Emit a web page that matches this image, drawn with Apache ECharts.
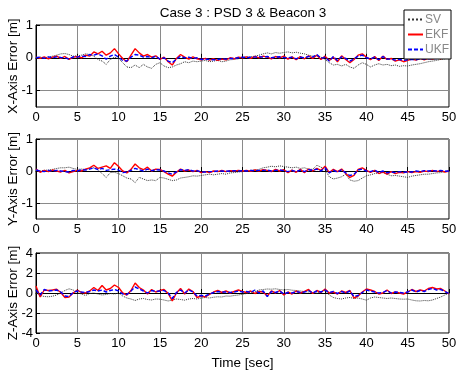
<!DOCTYPE html>
<html>
<head>
<meta charset="utf-8">
<script src="https://cdn.jsdelivr.net/npm/echarts@6/dist/echarts.min.js"></script>
<style>
  html, body { margin: 0; padding: 0; background: #fff; }
  #chart { width: 457px; height: 371px; }
</style>
</head>
<body>
<div id="chart"></div>
<script>
// time base: one sample every 0.5 s, 0..50
const time = [];
for (let i = 0; i <= 100; i++) time.push(i * 0.5);

const xyTicks = [-1, 0, 1];
const zTicks = [-4, -2, 0, 2, 4];

// X-axis error [m]
const svX = [0, 0.02, 0, 0.02, 0.05, 0.08, 0.12, 0.13, 0.1, 0.05, 0.06, 0.08, 0.12, 0.1, 0.05, -0.05, -0.1, -0.2, -0.05, 0.02, -0.02, -0.15, -0.28, -0.3, -0.22, -0.3, -0.2, -0.28, -0.32, -0.2, -0.15, -0.25, -0.3, -0.28, -0.22, -0.18, -0.12, -0.15, -0.1, -0.12, -0.1, -0.08, -0.12, -0.1, -0.08, -0.12, -0.1, -0.06, -0.05, -0.03, 0,
  0.02, 0.03, 0.05, 0.08, 0.12, 0.15, 0.12, 0.16, 0.14, 0.16, 0.18, 0.15, 0.17, 0.14, 0.12, 0.08, 0.05, 0.08, 0.02, -0.05, -0.15, -0.22, -0.2, -0.25, -0.2, -0.28, -0.32, -0.22, -0.15, -0.2, -0.28, -0.22, -0.18, -0.22, -0.2, -0.24, -0.22, -0.26, -0.24, -0.25, -0.22, -0.2, -0.18, -0.15, -0.12, -0.1, -0.08, -0.05, -0.03, 0];
const ekfX = [0.02, -0.02, 0.03, -0.03, 0.02, 0.05, -0.02, 0.04, -0.05, 0.02, 0.04, 0, 0.08, 0.05, 0.18, 0.12, 0.2, 0.08, 0.15, 0.28, 0.12, -0.02, -0.12, 0.08, 0.28, 0.15, 0.05, 0.1, 0.02, 0.06, -0.05, 0.02, -0.12, -0.22, -0.02, 0.1, 0.02, -0.04, 0.03, -0.03, -0.06, -0.02, -0.07, -0.03, -0.08, -0.04, -0.06, 0, -0.03, 0.02, 0,
  0.03, -0.02, 0.04, 0, 0.05, 0.02, -0.03, 0.04, 0, 0.05, -0.04, 0.03, -0.06, 0.04, -0.03, 0.06, -0.02, 0.08, -0.05, 0.05, -0.08, 0.02, -0.12, 0.06, -0.05, -0.15, -0.05, 0.08, 0.12, 0.02, -0.06, 0.04, -0.08, 0.05, -0.05, -0.02, -0.1, -0.06, -0.12, -0.08, -0.04, -0.07, -0.02, -0.06, -0.02, -0.04, 0, -0.03, 0.02, 0];
const ukfX = [0, 0.02, -0.02, 0.03, 0, 0.03, 0.01, 0, -0.04, 0.03, 0.02, 0.05, 0.04, 0.1, 0.08, 0.12, 0.06, -0.04, 0.05, 0.1, 0.02, -0.08, -0.1, 0.02, 0.1, 0.08, 0.02, 0.04, 0, 0.05, -0.04, 0, -0.1, -0.15, -0.04, 0.05, 0, 0.02, -0.02, 0, -0.05, -0.04, -0.05, -0.06, -0.05, -0.03, -0.04, -0.02, -0.02, 0, 0.02,
  0, 0.02, 0.02, 0.03, 0.02, 0.04, 0, 0.02, 0.03, 0.01, 0, 0.02, -0.03, 0.02, 0, 0.04, 0.02, 0.1, -0.02, 0.02, -0.1, 0.04, -0.08, 0.03, -0.02, -0.1, -0.03, 0.05, 0.08, 0, -0.03, 0.02, -0.06, 0.04, -0.04, -0.04, -0.07, -0.05, -0.08, -0.06, -0.05, -0.06, -0.03, -0.04, -0.03, -0.02, -0.02, -0.01, 0, 0];

// Y-axis error [m]
const svY = [0.02, 0, 0.02, 0.03, 0.05, 0.08, 0.1, 0.1, 0.12, 0.08, 0.05, 0.06, 0.05, 0.08, 0.1, 0.04, -0.08, -0.2, -0.05, -0.04, -0.08, -0.15, -0.22, -0.25, -0.36, -0.2, -0.25, -0.3, -0.28, -0.3, -0.2, -0.22, -0.26, -0.3, -0.28, -0.22, -0.2, -0.18, -0.15, -0.16, -0.14, -0.12, -0.1, -0.12, -0.1, -0.08, -0.1, -0.06, -0.05, -0.03, -0.02,
  0, 0.02, 0.03, 0.05, 0.1, 0.12, 0.15, 0.13, 0.16, 0.14, 0.12, 0.1, 0.12, 0.08, 0.1, 0.06, 0.05, 0.18, 0.12, 0.05, -0.18, -0.25, -0.22, -0.18, -0.1, -0.28, -0.32, -0.3, -0.22, -0.15, -0.12, -0.08, -0.06, -0.05, -0.1, -0.15, -0.14, -0.16, -0.18, -0.2, -0.16, -0.14, -0.12, -0.1, -0.1, -0.08, -0.06, -0.05, -0.02, 0];
const ekfY = [0.06, -0.04, 0.02, -0.02, 0.03, 0, -0.03, 0.02, -0.06, -0.02, 0.02, 0, 0.06, 0.1, 0.18, 0.08, 0.12, 0.16, 0.08, 0.26, 0.14, 0, -0.06, 0.05, 0.22, 0.1, 0.04, 0.12, 0, 0.06, 0.05, -0.02, -0.1, -0.16, -0.04, 0.06, 0, 0.03, -0.02, 0.02, -0.05, -0.02, -0.05, 0, -0.02, 0.02, -0.02, 0.01, 0, 0.02, 0,
  0.02, -0.01, 0.03, 0, 0.04, 0.02, -0.02, 0.05, 0, 0.04, -0.05, 0.03, -0.04, 0.05, -0.05, 0.06, 0, 0.08, 0.02, 0.15, -0.05, 0.05, -0.02, 0.06, -0.08, -0.2, -0.14, 0.05, 0.1, 0.02, -0.04, 0.02, -0.08, -0.03, -0.1, -0.02, -0.08, -0.04, -0.06, -0.02, -0.05, -0.02, -0.04, 0, -0.02, 0.02, -0.02, 0.01, -0.03, 0];
const ukfY = [0.03, 0, -0.02, 0.02, 0, 0.02, 0, -0.02, -0.03, 0.02, 0, 0.04, 0.03, 0.06, 0.1, 0.04, 0.08, 0.02, 0.04, 0.06, 0.03, -0.05, -0.03, 0.02, 0.08, 0.04, 0, 0.06, 0.01, 0.04, 0.03, 0, -0.06, -0.1, -0.03, 0.04, 0.02, 0.04, 0, 0.01, -0.03, -0.03, -0.02, -0.02, 0, 0, -0.01, 0, 0.01, 0, 0.01,
  0, 0.02, 0.01, 0.02, 0.02, 0.03, 0, 0.02, 0.03, 0.01, -0.02, 0.02, -0.02, 0.03, -0.02, 0.04, 0.02, 0.06, 0, 0.1, -0.06, 0.03, -0.04, 0.04, -0.06, -0.14, -0.1, 0.03, 0.06, 0, -0.02, 0.03, -0.05, 0, -0.06, -0.03, -0.05, -0.02, -0.04, -0.03, -0.03, 0, -0.02, 0.01, 0, 0.01, 0, 0.02, -0.01, 0];

// Z-axis error [m]
const svZ = [0, -0.25, -0.35, -0.38, -0.32, -0.2, 0, 0.25, 0.42, 0.3, 0.05, -0.1, -0.25, -0.05, 0, -0.1, -0.2, -0.15, -0.05, -0.1, 0, -0.3, -0.5, -0.6, -0.75, -0.6, -0.55, -0.65, -0.7, -0.6, -0.62, -0.7, -0.8, -0.7, -0.6, -0.65, -0.72, -0.6, -0.55, -0.6, -0.5, -0.45, -0.5, -0.42, -0.38, -0.4, -0.3, -0.32, -0.25, -0.2, -0.12,
  -0.05, 0, 0.15, 0.3, 0.35, 0.4, 0.38, 0.42, 0.35, 0.3, 0.35, 0.28, 0.25, 0.2, 0.15, 0.1, 0.05, 0, 0.1, 0.25, -0.2, -0.45, -0.55, -0.6, -0.5, -0.45, -0.55, -0.5, -0.6, -0.72, -0.5, -0.4, -0.45, -0.5, -0.55, -0.5, -0.55, -0.6, -0.62, -0.6, -0.7, -0.78, -0.8, -0.75, -0.78, -0.7, -0.55, -0.4, -0.2, 0];
const ekfZ = [0.7, -0.4, 0.3, 0.25, 0.3, 0.38, 0.05, -0.45, -0.4, 0, 0.3, 0.05, 0, 0.2, 0.55, 0.25, 0.75, 0.3, 0.45, 0.8, 0.55, 0, -0.2, 0.25, 1.0, 0.55, 0.3, -0.1, 0.35, 0.1, 0.25, 0.35, -0.05, -0.8, 0, 0.45, -0.1, 0.4, 0.15, -0.45, -0.3, -0.4, -0.15, 0.1, 0.25, 0.05, 0.2, 0, 0.15, 0.3, 0.15,
  0.05, 0.2, -0.05, 0.15, 0.1, -0.3, 0.2, 0, 0.25, -0.2, 0.1, -0.1, 0.2, 0, 0.15, 0.35, -0.05, 0.25, 0.05, 0.4, 0, 0.1, -0.1, 0.2, 0.05, 0.25, -0.5, -0.3, 0.1, 0.4, 0.3, 0.15, -0.1, 0, 0.3, -0.05, 0.1, 0, -0.1, 0.1, 0.35, 0.15, 0.3, 0.2, 0.45, 0.55, 0.4, 0.45, 0.2, -0.1];
const ukfZ = [0.3, -0.2, 0.35, 0.2, 0.25, 0.3, 0.1, -0.3, -0.35, 0.05, 0.2, 0.1, 0.05, 0.15, 0.3, 0.2, 0.3, 0.1, 0.25, 0.35, 0.2, -0.1, -0.15, 0.2, 0.6, 0.4, 0.2, 0, 0.25, 0.15, 0.2, 0.25, 0, -0.55, 0.05, 0.3, 0, 0.3, 0.1, -0.3, -0.25, -0.3, -0.1, 0.05, 0.15, 0.1, 0.1, 0.05, 0.1, 0.2, 0.1,
  0.15, 0.05, 0.3, 0, 0.2, -0.35, 0.15, 0.05, 0.2, -0.1, 0.05, 0, 0.15, 0.05, 0.1, 0.25, 0, 0.2, 0.1, 0.3, 0.05, 0.15, -0.05, 0.15, 0, 0.2, -0.35, -0.25, 0.05, 0.3, 0.2, 0.1, 0, 0.05, 0.25, 0, 0.1, 0.05, 0, 0.1, 0.3, 0.1, 0.25, 0.15, 0.35, 0.45, 0.3, 0.35, 0.15, -0.05];

const pair = (vals) => time.map((t, i) => [t, vals[i]]);

const FONT = 'Liberation Sans';
const gridColor = '#8a8a8a';

const grids = [
  { left: 36, top: 25, width: 413, height: 82 },
  { left: 36, top: 139, width: 413, height: 80 },
  { left: 36, top: 253, width: 413, height: 80 }
].map(g => Object.assign({
  show: true, borderColor: '#000', borderWidth: 1, backgroundColor: '#fff',
  containLabel: false, outerBoundsMode: 'none'
}, g));

function xAxisFor(idx, name) {
  return {
    type: 'value', gridIndex: idx, min: 0, max: 50, interval: 5,
    name: name || '', nameLocation: 'middle', nameGap: 23, nameMoveOverlap: false,
    nameTextStyle: { fontFamily: FONT, fontSize: 13.5, color: '#000' },
    axisLine: { lineStyle: { color: '#000' } },
    axisTick: { inside: true, length: 4, lineStyle: { color: '#000' } },
    axisLabel: { margin: 4, fontFamily: FONT, fontSize: 13, color: '#000' },
    splitLine: { show: true, lineStyle: { color: gridColor, width: 1 } }
  };
}

function yAxisFor(idx, name, min, max, ticks) {
  return {
    type: 'value', gridIndex: idx, min: min, max: max,
    name: name, nameLocation: 'middle', nameGap: 16, nameMoveOverlap: false,
    nameTextStyle: { fontFamily: FONT, fontSize: 13.5, color: '#000' },
    axisLine: { lineStyle: { color: '#000' } },
    axisTick: { inside: true, length: 4, customValues: ticks, lineStyle: { color: '#000' } },
    axisLabel: { margin: 3, customValues: ticks, fontFamily: FONT, fontSize: 13, color: '#000' },
    splitLine: { show: true, lineStyle: { color: gridColor, width: 1 } }
  };
}

function seriesFor(idx, sv, ekf, ukf) {
  return [
    { name: 'SV', type: 'line', xAxisIndex: idx, yAxisIndex: idx, data: pair(sv),
      symbol: 'none', lineStyle: { color: '#333', width: 1, type: 'dotted' }, itemStyle: { color: '#333' } },
    { name: 'EKF', type: 'line', xAxisIndex: idx, yAxisIndex: idx, data: pair(ekf),
      symbol: 'none', lineStyle: { color: '#ff0000', width: 1.4 }, itemStyle: { color: '#ff0000' } },
    { name: 'UKF', type: 'line', xAxisIndex: idx, yAxisIndex: idx, data: pair(ukf),
      symbol: 'none', lineStyle: { color: '#0000ff', width: 1.4, type: [4, 2] }, itemStyle: { color: '#0000ff' } }
  ];
}

const chart = echarts.init(document.getElementById('chart'));
chart.setOption({
  animation: false,
  backgroundColor: '#fff',
  title: {
    text: 'Case 3 : PSD 3 & Beacon 3',
    left: 243, top: 6, padding: 0, textAlign: 'center',
    textStyle: { fontFamily: FONT, fontSize: 13.5, fontWeight: 'normal', color: '#000' }
  },
  legend: {
    data: ['SV', 'EKF', 'UKF'],
    orient: 'vertical', left: 404, top: 10,
    backgroundColor: '#fff', borderColor: '#000', borderWidth: 1,
    padding: [2, 2, 2, 3], itemGap: 0, itemWidth: 15, itemHeight: 10,
    itemStyle: { opacity: 0 },
    textStyle: { fontFamily: FONT, fontSize: 12, color: '#888', lineHeight: 15, padding: [0, 0, 0, -3] }
  },
  grid: grids,
  xAxis: [xAxisFor(0), xAxisFor(1), xAxisFor(2, 'Time [sec]')],
  yAxis: [
    yAxisFor(0, 'X-Axis Error [m]', -1.5, 1, xyTicks),
    yAxisFor(1, 'Y-Axis Error [m]', -1.5, 1, xyTicks),
    yAxisFor(2, 'Z-Axis Error [m]', -4, 4, zTicks)
  ],
  series: [].concat(seriesFor(0, svX, ekfX, ukfX), seriesFor(1, svY, ekfY, ukfY), seriesFor(2, svZ, ekfZ, ukfZ))
});
</script>
</body>
</html>
